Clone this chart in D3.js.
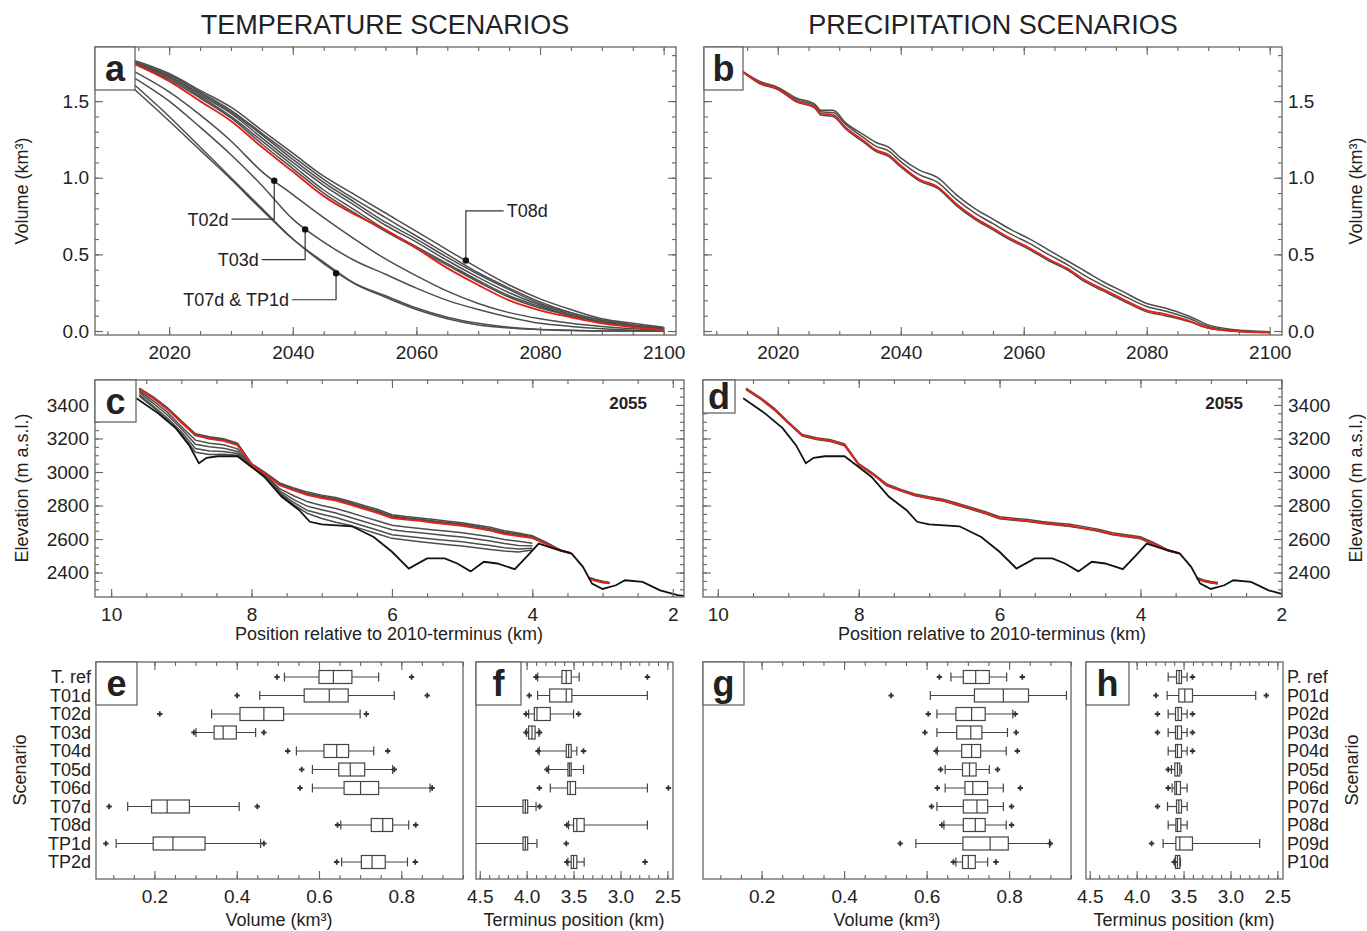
<!DOCTYPE html>
<html>
<head>
<meta charset="utf-8">
<script src="https://cdn.jsdelivr.net/npm/d3@7"></script>
<style>
  body { margin: 0; background: #fff; }
  text { font-family: "Liberation Sans", Arial, Helvetica, sans-serif; fill: #222; }
</style>
</head>
<body>
<svg id="fig" width="1367" height="931"></svg>
<script>
// ---------- panel a: glacier volume, temperature scenarios (km3) ----------
const aYears = [2014, 2020, 2025, 2030, 2035, 2040, 2045, 2050, 2055, 2060, 2065, 2070, 2075, 2080, 2085, 2090, 2095, 2100]
const aTref = [1.75, 1.63, 1.50, 1.37, 1.20, 1.04, 0.88, 0.76, 0.66, 0.54, 0.41, 0.30, 0.20, 0.135, 0.09, 0.05, 0.025, 0.005]
const aT01d = [1.75, 1.64, 1.52, 1.39, 1.22, 1.06, 0.90, 0.77, 0.65, 0.54, 0.43, 0.32, 0.22, 0.15, 0.10, 0.055, 0.03, 0.01]
const aT04d = [1.75, 1.65, 1.53, 1.40, 1.24, 1.08, 0.92, 0.79, 0.66, 0.55, 0.44, 0.33, 0.23, 0.16, 0.10, 0.06, 0.03, 0.012]
const aT05d = [1.76, 1.66, 1.54, 1.42, 1.26, 1.10, 0.95, 0.82, 0.69, 0.58, 0.46, 0.35, 0.25, 0.17, 0.11, 0.06, 0.035, 0.015]
const aT06d = [1.76, 1.66, 1.55, 1.43, 1.28, 1.12, 0.97, 0.84, 0.71, 0.60, 0.48, 0.37, 0.27, 0.18, 0.12, 0.07, 0.04, 0.02]
const aT08d = [1.77, 1.68, 1.57, 1.46, 1.31, 1.16, 1.01, 0.89, 0.77, 0.65, 0.53, 0.41, 0.30, 0.21, 0.14, 0.08, 0.05, 0.025]
const aTP2d = [1.76, 1.67, 1.56, 1.44, 1.29, 1.14, 0.99, 0.86, 0.74, 0.62, 0.50, 0.38, 0.28, 0.19, 0.12, 0.07, 0.04, 0.02]
const aT02d = [1.70, 1.56, 1.41, 1.24, 1.04, 0.89, 0.74, 0.60, 0.47, 0.36, 0.26, 0.18, 0.12, 0.08, 0.05, 0.03, 0.015, 0.005]
const aT03d = [1.66, 1.50, 1.33, 1.15, 0.95, 0.73, 0.58, 0.46, 0.37, 0.28, 0.20, 0.14, 0.09, 0.05, 0.03, 0.015, 0.005, 0.0]
const aT07d = [1.62, 1.40, 1.20, 1.00, 0.80, 0.60, 0.45, 0.31, 0.22, 0.14, 0.08, 0.04, 0.02, 0.01, 0.003, 0.0, 0.0, 0.0]
const aTP1d = [1.59, 1.37, 1.18, 0.99, 0.79, 0.60, 0.44, 0.31, 0.23, 0.15, 0.09, 0.05, 0.025, 0.01, 0.005, 0.0, 0.0, 0.0]
const aGray = [aT01d, aT04d, aT05d, aT06d, aT08d, aTP2d, aT02d, aT03d, aT07d, aTP1d]

// annotations of panel a: point on the curve and where the label sits
const aNotes = [
  { label: 'T02d', year: 2037, value: 0.98, labelYear: 2029.6, labelValue: 0.73, side: 'left' },
  { label: 'T03d', year: 2042, value: 0.663, labelYear: 2034.5, labelValue: 0.466, side: 'left' },
  { label: 'T07d & TP1d', year: 2047, value: 0.377, labelYear: 2039.4, labelValue: 0.204, side: 'left' },
  { label: 'T08d', year: 2068, value: 0.46, labelYear: 2074.6, labelValue: 0.784, side: 'right' }
]

// ---------- panel b: glacier volume, precipitation scenarios (km3) ----------
const bYears = [2014, 2017, 2020, 2023, 2026, 2027, 2029, 2031, 2034, 2036, 2038, 2040, 2043, 2046, 2049, 2052, 2055, 2058, 2061, 2064, 2067, 2070, 2073, 2076, 2080, 2083, 2087, 2090, 2094, 2100]
const bPref = [1.70, 1.62, 1.58, 1.50, 1.46, 1.42, 1.41, 1.33, 1.24, 1.18, 1.15, 1.08, 0.99, 0.94, 0.83, 0.74, 0.67, 0.60, 0.54, 0.47, 0.41, 0.33, 0.27, 0.21, 0.135, 0.11, 0.065, 0.02, 0.0, -0.01]
const bP01d = [1.70, 1.63, 1.59, 1.52, 1.48, 1.44, 1.44, 1.36, 1.28, 1.23, 1.20, 1.13, 1.05, 1.00, 0.89, 0.80, 0.73, 0.66, 0.60, 0.53, 0.46, 0.39, 0.32, 0.26, 0.18, 0.15, 0.095, 0.04, 0.01, -0.005]
const bP09d = [1.70, 1.625, 1.585, 1.51, 1.47, 1.43, 1.425, 1.35, 1.26, 1.205, 1.175, 1.105, 1.02, 0.97, 0.86, 0.77, 0.70, 0.63, 0.57, 0.50, 0.435, 0.36, 0.295, 0.235, 0.16, 0.13, 0.08, 0.03, 0.005, -0.008]
const bPrest = [1.70, 1.615, 1.575, 1.495, 1.455, 1.41, 1.40, 1.32, 1.23, 1.17, 1.14, 1.07, 0.98, 0.93, 0.82, 0.73, 0.66, 0.59, 0.53, 0.46, 0.40, 0.32, 0.26, 0.20, 0.125, 0.10, 0.06, 0.018, 0.0, -0.01]
const bGray = [bP01d, bP09d, bPrest]

// ---------- panels c, d: surface elevation in 2055 along the flowline (m a.s.l.) ----------
const profKm = [9.6, 9.4, 9.2, 9.0, 8.8, 8.6, 8.4, 8.2, 8.0, 7.8, 7.6, 7.4, 7.2, 7.0, 6.8, 6.6, 6.4, 6.2, 6.0, 5.8, 5.6, 5.4, 5.2, 5.0, 4.8, 4.6, 4.4, 4.2, 4.0, 3.8, 3.6, 3.45, 3.3, 3.2, 3.1, 3.0, 2.9]
const cRef = [3495, 3440, 3375, 3295, 3218, 3198, 3186, 3160, 3045, 2988, 2922, 2890, 2862, 2845, 2830, 2806, 2780, 2755, 2725, 2716, 2708, 2697, 2688, 2679, 2665, 2650, 2630, 2618, 2605, 2570, 2530, 2515, null, 2365, 2350, 2340, 2335]
const cT08d = [3500, 3448, 3385, 3305, 3228, 3210, 3198, 3172, 3050, 2995, 2935, 2905, 2880, 2862, 2848, 2826, 2800, 2776, 2745, 2734, 2726, 2716, 2706, 2697, 2684, 2670, 2650, 2636, 2620, 2580, 2535, 2517, null, 2372, 2358, 2348, 2340]
const cTP2d = [3498, 3445, 3380, 3300, 3224, 3205, 3193, 3167, 3048, 2992, 2930, 2898, 2872, 2855, 2840, 2818, 2792, 2767, 2737, 2727, 2718, 2708, 2698, 2690, 2676, 2662, 2642, 2628, 2613, 2576, 2533, 2516, null, 2370, 2355, 2345, 2338]
const cT06d = [3496, 3442, 3378, 3298, 3221, 3202, 3190, 3164, 3046, 2990, 2926, 2894, 2867, 2850, 2835, 2812, 2786, 2761, 2731, 2721, 2713, 2703, 2693, 2685, 2671, 2656, 2636, 2623, 2609, 2573, 2531, 2515, null, 2368, 2352, 2342, 2336]
const cT02d = [3485, 3425, 3357, 3272, 3190, 3172, 3163, 3138, 3040, 2985, 2900, 2858, 2822, 2800, 2782, 2758, 2732, 2707, 2682, 2672, 2663, 2654, 2646, 2638, 2626, 2613, 2597, 2586, 2575, null, null, null, null, null, null, null, null]
const cT03d = [3475, 3410, 3340, 3258, 3165, 3150, 3142, 3122, 3037, 2983, 2888, 2835, 2795, 2775, 2755, 2730, 2705, 2680, 2655, 2645, 2637, 2628, 2620, 2612, 2600, 2588, 2573, 2562, 2560, null, null, null, null, null, null, null, null]
const cT07d = [3462, 3393, 3322, 3240, 3140, 3125, 3122, 3110, 3034, 2980, 2878, 2818, 2770, 2748, 2728, 2703, 2678, 2652, 2625, 2616, 2608, 2599, 2591, 2583, 2572, 2561, 2548, 2540, 2545, null, null, null, null, null, null, null, null]
const cTP1d = [3452, 3385, 3312, 3228, 3118, 3105, 3106, 3100, 3032, 2976, 2872, 2805, 2752, 2722, 2700, 2682, 2656, 2630, 2604, 2594, 2584, 2575, 2566, 2558, 2548, 2538, 2528, 2522, 2535, null, null, null, null, null, null, null, null]
const cGray = [cT08d, cTP2d, cT06d, cT02d, cT03d, cT07d, cTP1d]
const dP01d = [3500, 3446, 3381, 3300, 3224, 3204, 3193, 3167, 3050, 2994, 2928, 2896, 2869, 2852, 2838, 2814, 2788, 2763, 2733, 2724, 2716, 2705, 2696, 2688, 2674, 2658, 2638, 2626, 2613, 2576, 2534, 2517, null, 2370, 2356, 2346, 2340]
const dP09d = [3492, 3437, 3371, 3291, 3214, 3194, 3182, 3156, 3043, 2985, 2918, 2886, 2858, 2841, 2826, 2802, 2776, 2751, 2721, 2712, 2704, 2693, 2684, 2675, 2661, 2646, 2626, 2614, 2601, 2566, 2528, 2514, null, 2362, 2347, 2337, 2332]
const dGray = [dP01d, dP09d]

// glacier bed
const bedKm = [9.64, 9.33, 9.08, 8.89, 8.75, 8.64, 8.48, 8.2, 8.0, 7.82, 7.57, 7.32, 7.17, 7.0, 6.57, 6.26, 6.0, 5.76, 5.5, 5.25, 5.07, 4.88, 4.69, 4.5, 4.25, 4.06, 3.91, 3.69, 3.44, 3.28, 3.15, 3.0, 2.81, 2.68, 2.43, 2.18, 1.93, 1.84]
const bedElev = [3440, 3350, 3262, 3160, 3052, 3085, 3094, 3094, 3030, 2972, 2852, 2772, 2703, 2688, 2676, 2612, 2524, 2424, 2484, 2484, 2454, 2407, 2464, 2454, 2420, 2504, 2573, 2543, 2513, 2434, 2334, 2302, 2324, 2354, 2344, 2294, 2265, 2260]

// ---------- panels e-h: box plots [whisker low, q1, median, q3, whisker high] ----------
const tScen = ['T. ref', 'T01d', 'T02d', 'T03d', 'T04d', 'T05d', 'T06d', 'T07d', 'T08d', 'TP1d', 'TP2d']
const pScen = ['P. ref', 'P01d', 'P02d', 'P03d', 'P04d', 'P05d', 'P06d', 'P07d', 'P08d', 'P09d', 'P10d']

const eBox = [
  [0.516, 0.60, 0.635, 0.68, 0.745], [0.456, 0.564, 0.625, 0.671, 0.783], [0.339, 0.408, 0.466, 0.514, 0.70],
  [0.301, 0.345, 0.367, 0.399, 0.446], [0.545, 0.612, 0.643, 0.672, 0.733], [0.584, 0.648, 0.676, 0.711, 0.779],
  [0.584, 0.661, 0.701, 0.745, 0.87], [0.135, 0.193, 0.231, 0.285, 0.406], [0.653, 0.727, 0.755, 0.779, 0.818],
  [0.107, 0.197, 0.245, 0.323, 0.458], [0.655, 0.703, 0.729, 0.761, 0.815]
]
const eOut = [[0.498, 0.825], [0.401, 0.863], [0.213, 0.715], [0.296, 0.466], [0.524, 0.767], [0.558, 0.783],
  [0.554, 0.875], [0.09, 0.45], [0.645, 0.835], [0.082, 0.466], [0.643, 0.834]]

const fBox = [
  [3.44, 3.525, 3.578, 3.624, 3.883], [2.713, 3.518, 3.578, 3.755, 3.883], [3.50, 3.748, 3.89, 3.918, 3.979],
  [3.87, 3.91, 3.943, 3.979, 4.0], [3.465, 3.525, 3.553, 3.578, 3.865], [3.394, 3.525, 3.543, 3.56, 3.766],
  [2.713, 3.479, 3.535, 3.564, 3.748], [3.90, 3.989, 4.014, 4.039, 5.2], [2.713, 3.387, 3.465, 3.50, 3.553],
  [3.89, 3.989, 4.014, 4.039, 5.2], [3.387, 3.465, 3.50, 3.525, 3.56]
]
const fOut = [[3.90, 2.713], [3.972], [4.007, 3.447], [4.007, 3.862], [3.879, 3.394], [3.784],
  [3.865, 2.489], [3.862], [3.571], [3.578], [3.571, 2.738]]

const gBox = [
  [0.659, 0.689, 0.719, 0.752, 0.794], [0.609, 0.716, 0.786, 0.847, 0.939], [0.625, 0.671, 0.709, 0.742, 0.809],
  [0.625, 0.673, 0.707, 0.734, 0.796], [0.626, 0.685, 0.709, 0.731, 0.793], [0.645, 0.687, 0.704, 0.72, 0.752],
  [0.645, 0.693, 0.712, 0.748, 0.786], [0.625, 0.689, 0.722, 0.748, 0.786], [0.642, 0.689, 0.718, 0.742, 0.793],
  [0.574, 0.688, 0.754, 0.798, 0.898], [0.671, 0.687, 0.701, 0.718, 0.748]
]
const gOut = [[0.631, 0.832], [0.514], [0.604, 0.815], [0.596, 0.817], [0.623, 0.82], [0.634, 0.772],
  [0.626, 0.827], [0.612, 0.806], [0.637, 0.806], [0.536, 0.90], [0.665, 0.768]]

const hBox = [
  [3.462, 3.522, 3.547, 3.575, 3.664], [2.731, 3.405, 3.487, 3.551, 3.675], [3.462, 3.522, 3.558, 3.586, 3.664],
  [3.462, 3.522, 3.565, 3.586, 3.664], [3.462, 3.522, 3.565, 3.586, 3.664], [3.522, 3.54, 3.565, 3.593, 3.629],
  [3.462, 3.533, 3.575, 3.593, 3.622], [3.462, 3.522, 3.551, 3.575, 3.671], [3.462, 3.529, 3.565, 3.582, 3.664],
  [2.689, 3.405, 3.54, 3.582, 3.718], [3.533, 3.54, 3.565, 3.586, 3.593]
]
const hOut = [[3.405], [3.795, 2.618], [3.778, 3.405], [3.778, 3.405], [3.405], [3.664],
  [3.664], [3.778], [], [3.841], [3.60]]

// ---------- drawing ----------
const svg = d3.select('#fig')
const frameColor = '#666'
const grayLine = '#4d4d4d'
const redLine = '#e2231a'

// scales
const xA = d3.scaleLinear().domain([2008, 2102]).range([95, 676])
const yA = d3.scaleLinear().domain([-0.026, 1.853]).range([335, 47])
const xB = d3.scaleLinear().domain([2008, 2102]).range([704, 1282])
const yB = yA.copy()
const xC = d3.scaleLinear().domain([10.23, 1.84]).range([95, 684])
const yC = d3.scaleLinear().domain([2254, 3549]).range([597, 380])
const xD = d3.scaleLinear().domain([10.21, 1.99]).range([703, 1282])
const yD = yC.copy()
const xE = d3.scaleLinear().domain([0.058, 0.95]).range([96, 463])
const xF = d3.scaleLinear().domain([4.54, 2.44]).range([476, 673])
const xG = d3.scaleLinear().domain([0.058, 0.95]).range([703, 1071])
const xH = d3.scaleLinear().domain([4.54, 2.44]).range([1086, 1283])
const yRows = d3.scalePoint().domain(d3.range(11)).range([677, 862])
const boxTop = 662, boxBottom = 879

function styleAxis(g) {
  g.select('.domain').remove()
  g.selectAll('line').attr('stroke', frameColor).attr('stroke-width', 1.1)
  g.selectAll('text').attr('font-size', 19).attr('fill', '#222')
}

// ticks inside the frame on all four sides
function xTicks(g, x, top, bottom, major, minor, fmt) {
  g.append('g').attr('transform', `translate(0,${bottom})`)
    .call(d3.axisBottom(x).tickValues(major).tickSize(-8).tickPadding(11).tickFormat(fmt))
    .call(styleAxis)
  g.append('g').attr('transform', `translate(0,${bottom})`)
    .call(d3.axisBottom(x).tickValues(minor).tickSize(-4).tickFormat(''))
    .call(styleAxis)
  g.append('g').attr('transform', `translate(0,${top})`)
    .call(d3.axisTop(x).tickValues(major).tickSize(-8).tickFormat(''))
    .call(styleAxis)
  g.append('g').attr('transform', `translate(0,${top})`)
    .call(d3.axisTop(x).tickValues(minor).tickSize(-4).tickFormat(''))
    .call(styleAxis)
}

function yTicks(g, y, left, right, major, minor, fmt, labelSide) {
  g.append('g').attr('transform', `translate(${left},0)`)
    .call(d3.axisLeft(y).tickValues(major).tickSize(-8).tickPadding(6).tickFormat(labelSide === 'left' ? fmt : ''))
    .call(styleAxis)
  g.append('g').attr('transform', `translate(${left},0)`)
    .call(d3.axisLeft(y).tickValues(minor).tickSize(-4).tickFormat(''))
    .call(styleAxis)
  g.append('g').attr('transform', `translate(${right},0)`)
    .call(d3.axisRight(y).tickValues(major).tickSize(-8).tickPadding(6).tickFormat(labelSide === 'right' ? fmt : ''))
    .call(styleAxis)
  g.append('g').attr('transform', `translate(${right},0)`)
    .call(d3.axisRight(y).tickValues(minor).tickSize(-4).tickFormat(''))
    .call(styleAxis)
}

function frame(x0, x1, y0, y1) {
  svg.append('rect')
    .attr('x', x0).attr('y', y0).attr('width', x1 - x0).attr('height', y1 - y0)
    .attr('fill', 'none').attr('stroke', frameColor).attr('stroke-width', 1.3)
}

function letterBox(x0, y0, w, h, letter) {
  svg.append('rect').attr('x', x0).attr('y', y0).attr('width', w).attr('height', h)
    .attr('fill', '#fff').attr('stroke', frameColor).attr('stroke-width', 1.3)
  svg.append('text').attr('x', x0 + w / 2).attr('y', y0 + h / 2)
    .attr('dy', '0.36em').attr('text-anchor', 'middle')
    .attr('font-size', 36).attr('font-weight', 'bold').attr('fill', '#111')
    .text(letter)
}

function clip(id, x0, x1, y0, y1) {
  svg.append('clipPath').attr('id', id).append('rect')
    .attr('x', x0).attr('y', y0).attr('width', x1 - x0).attr('height', y1 - y0)
}

function yTitle(x, y, label) {
  svg.append('text').attr('transform', `translate(${x},${y}) rotate(-90)`)
    .attr('text-anchor', 'middle').attr('dy', '0.35em').attr('font-size', 18).text(label)
}

function xTitle(x, y, label) {
  svg.append('text').attr('x', x).attr('y', y).attr('dy', '0.35em')
    .attr('text-anchor', 'middle').attr('font-size', 18).text(label)
}

// titles
svg.append('text').attr('x', 385).attr('y', 34).attr('text-anchor', 'middle')
  .attr('font-size', 27).text('TEMPERATURE SCENARIOS')
svg.append('text').attr('x', 993).attr('y', 34).attr('text-anchor', 'middle')
  .attr('font-size', 27).text('PRECIPITATION SCENARIOS')

// ---- volume panels a and b ----
function volumePanel(x, y, years, gray, ref, labelSide, id) {
  const g = svg.append('g')
  const [x0, x1] = x.range()
  const [y1, y0] = y.range()
  clip(id, x0, x1, y0, y1)
  const line = d3.line().x((d, i) => x(years[i])).y(d => y(d)).curve(d3.curveMonotoneX)
  const lines = g.append('g').attr('clip-path', `url(#${id})`)
  lines.selectAll('path.gray').data(gray).join('path')
    .attr('class', 'gray').attr('d', line)
    .attr('fill', 'none').attr('stroke', grayLine).attr('stroke-width', 1.5)
  lines.append('path').attr('d', line(ref))
    .attr('fill', 'none').attr('stroke', redLine).attr('stroke-width', 1.9)
  xTicks(g, x, y0, y1, [2020, 2040, 2060, 2080, 2100], d3.range(2010, 2101, 5), d3.format('d'))
  yTicks(g, y, x0, x1, [0, 0.5, 1.0, 1.5], d3.range(0, 1.81, 0.1), d3.format('.1f'), labelSide)
  frame(x0, x1, y0, y1)
  return g
}

const gA = volumePanel(xA, yA, aYears, aGray, aTref, 'left', 'clipA')
const gB = volumePanel(xB, yB, bYears, bGray, bPref, 'right', 'clipB')

// leaders and labels in panel a
aNotes.forEach(n => {
  const px = xA(n.year), py = yA(n.value)
  const lx = xA(n.labelYear), ly = yA(n.labelValue)
  const startX = n.side === 'left' ? lx + 3 : lx - 3
  gA.append('path')
    .attr('d', `M${startX},${ly}H${px}V${py}`)
    .attr('fill', 'none').attr('stroke', '#333').attr('stroke-width', 1.2)
  gA.append('circle').attr('cx', px).attr('cy', py).attr('r', 3.2).attr('fill', '#111')
  gA.append('text').attr('x', lx).attr('y', ly).attr('dy', '0.36em')
    .attr('text-anchor', n.side === 'left' ? 'end' : 'start')
    .attr('font-size', 18).text(n.label)
})

letterBox(95, 47, 40, 43, 'a')
letterBox(704, 47, 39, 43, 'b')
yTitle(22, 191, 'Volume (km³)')
yTitle(1356, 191, 'Volume (km³)')

// ---- profile panels c and d ----
function profilePanel(x, y, gray, ref, labelSide, id) {
  const g = svg.append('g')
  const [x0, x1] = x.range()
  const [y1, y0] = y.range()
  clip(id, x0, x1, y0, y1)
  const line = d3.line().defined(d => d != null).x((d, i) => x(profKm[i])).y(d => y(d))
  const lines = g.append('g').attr('clip-path', `url(#${id})`)
  lines.selectAll('path.gray').data(gray).join('path')
    .attr('class', 'gray').attr('d', line)
    .attr('fill', 'none').attr('stroke', grayLine).attr('stroke-width', 1.5)
  lines.append('path').attr('d', line(ref))
    .attr('fill', 'none').attr('stroke', redLine).attr('stroke-width', 1.9)
  const bedLine = d3.line().x((d, i) => x(bedKm[i])).y(d => y(d))
  lines.append('path').attr('d', bedLine(bedElev))
    .attr('fill', 'none').attr('stroke', '#111').attr('stroke-width', 1.8)
  xTicks(g, x, y0, y1, [10, 8, 6, 4, 2], d3.range(2, 10.01, 0.5), d3.format('d'))
  yTicks(g, y, x0, x1, d3.range(2400, 3401, 200), d3.range(2300, 3549, 50), d3.format('d'), labelSide)
  frame(x0, x1, y0, y1)
  return g
}

profilePanel(xC, yC, cGray, cRef, 'left', 'clipC')
profilePanel(xD, yD, dGray, cRef, 'right', 'clipD')
letterBox(95, 380, 41, 42, 'c')
letterBox(703, 380, 32, 33, 'd')
svg.append('text').attr('x', 647).attr('y', 403).attr('dy', '0.35em').attr('text-anchor', 'end')
  .attr('font-size', 17).attr('font-weight', 'bold').text('2055')
svg.append('text').attr('x', 1243).attr('y', 403).attr('dy', '0.35em').attr('text-anchor', 'end')
  .attr('font-size', 17).attr('font-weight', 'bold').text('2055')
xTitle(389, 634, 'Position relative to 2010-terminus (km)')
xTitle(992, 634, 'Position relative to 2010-terminus (km)')
yTitle(22, 488, 'Elevation (m a.s.l.)')
yTitle(1356, 488, 'Elevation (m a.s.l.)')

// ---- box plot panels e-h ----
const plus = d3.symbol(d3.symbolCross, 16)

function boxPanel(x, stats, outs, major, minor, id) {
  const g = svg.append('g')
  const [xa, xb] = x.range()
  clip(id, xa, xb, boxTop, boxBottom)
  const b = g.append('g').attr('clip-path', `url(#${id})`)
    .attr('stroke', '#444').attr('stroke-width', 1.2)
  stats.forEach((s, i) => {
    const cy = yRows(i)
    const [lo, q1, med, q3, hi] = s
    b.append('line').attr('x1', x(lo)).attr('x2', x(hi)).attr('y1', cy).attr('y2', cy)
    b.selectAll(null).data([lo, hi]).enter().append('line')
      .attr('x1', d => x(d)).attr('x2', d => x(d)).attr('y1', cy - 4.5).attr('y2', cy + 4.5)
    b.append('rect')
      .attr('x', Math.min(x(q1), x(q3))).attr('width', Math.abs(x(q3) - x(q1)))
      .attr('y', cy - 6.5).attr('height', 13).attr('fill', '#fff')
    b.append('line').attr('x1', x(med)).attr('x2', x(med)).attr('y1', cy - 6.5).attr('y2', cy + 6.5)
    b.selectAll(null).data(outs[i]).enter().append('path')
      .attr('d', plus).attr('transform', d => `translate(${x(d)},${cy})`)
      .attr('fill', '#333').attr('stroke', 'none')
  })
  xTicks(g, x, boxTop, boxBottom, major, minor, d3.format('.1f'))
  frame(xa, xb, boxTop, boxBottom)
  return g
}

const volMajor = [0.2, 0.4, 0.6, 0.8]
const volMinor = d3.range(0.1, 0.951, 0.05)
const posMajor = [4.5, 4.0, 3.5, 3.0, 2.5]
const posMinor = d3.range(2.5, 4.51, 0.1)

boxPanel(xE, eBox, eOut, volMajor, volMinor, 'clipE')
boxPanel(xF, fBox, fOut, posMajor, posMinor, 'clipF')
boxPanel(xG, gBox, gOut, volMajor, volMinor, 'clipG')
boxPanel(xH, hBox, hOut, posMajor, posMinor, 'clipH')
letterBox(96, 662, 41, 43, 'e')
letterBox(476, 662, 45, 43, 'f')
letterBox(703, 662, 41, 43, 'g')
letterBox(1086, 662, 43, 43, 'h')

// scenario names
svg.append('g').selectAll('text').data(tScen).join('text')
  .attr('x', 91).attr('y', (d, i) => yRows(i)).attr('dy', '0.36em')
  .attr('text-anchor', 'end').attr('font-size', 18).text(d => d)
svg.append('g').selectAll('text').data(pScen).join('text')
  .attr('x', 1287).attr('y', (d, i) => yRows(i)).attr('dy', '0.36em')
  .attr('text-anchor', 'start').attr('font-size', 18).text(d => d)

yTitle(20, 770, 'Scenario')
yTitle(1352, 770, 'Scenario')
xTitle(279, 920, 'Volume (km³)')
xTitle(574, 920, 'Terminus position (km)')
xTitle(887, 920, 'Volume (km³)')
xTitle(1184, 920, 'Terminus position (km)')
</script>
</body>
</html>
